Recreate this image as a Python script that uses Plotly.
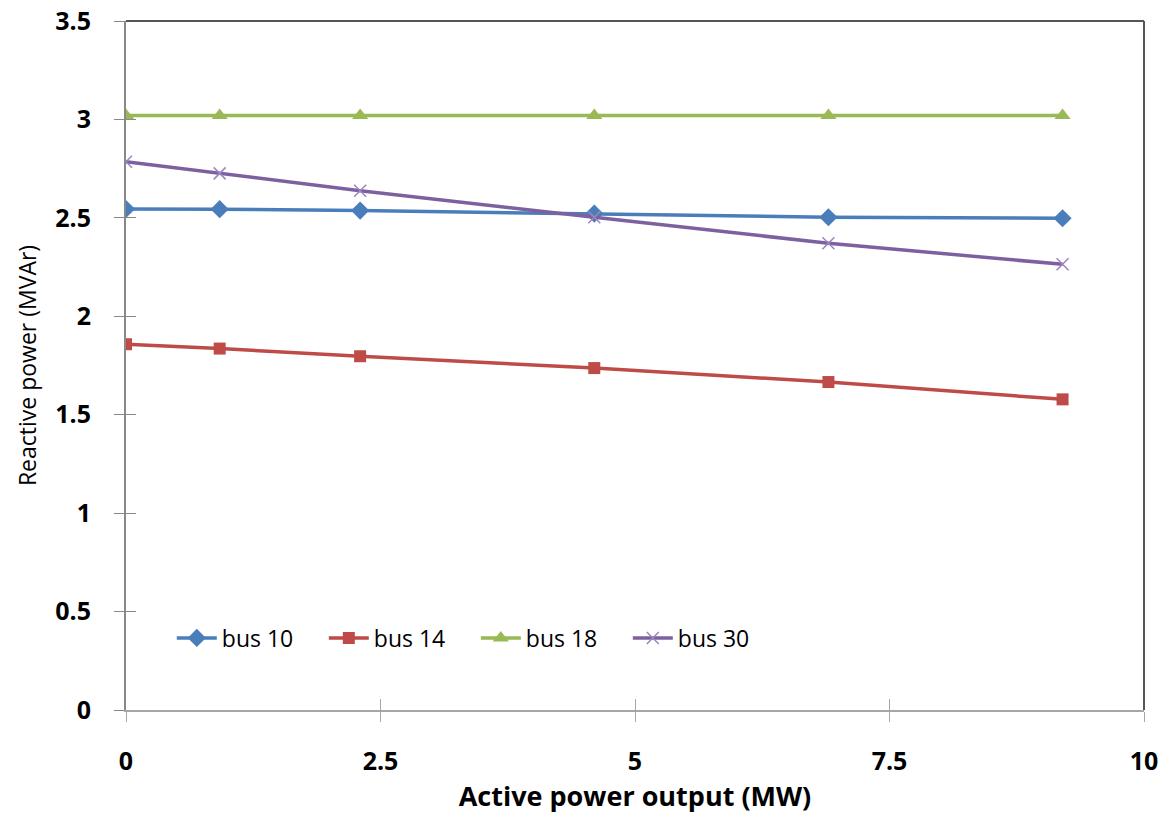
import plotly.graph_objects as go

x_vals = [0, 0.92, 2.3, 4.6, 6.9, 9.2]
bus10 = [2.545, 2.544, 2.537, 2.522, 2.503, 2.498]
bus14 = [1.858, 1.836, 1.797, 1.737, 1.666, 1.578]
bus18 = [3.02, 3.02, 3.02, 3.02, 3.02, 3.02]
bus30 = [2.785, 2.726, 2.638, 2.503, 2.371, 2.264]

series = [
    ("bus 10", bus10, "#4A7EBB", "diamond", 14),
    ("bus 14", bus14, "#BE4B48", "square", 12),
    ("bus 18", bus18, "#98B954", "triangle-up", 14),
    ("bus 30", bus30, "#7D60A0", "x-thin", 12),
]

x_ticks = [0, 2.5, 5, 7.5, 10]
x_tick_text = ["0", "2.5", "5", "7.5", "10"]
y_ticks = [0, 0.5, 1, 1.5, 2, 2.5, 3, 3.5]
y_tick_text = ["0", "0.5", "1", "1.5", "2", "2.5", "3", "3.5"]

FONT = "Open Sans"

fig = go.Figure()
for name, vals, color, sym, size in series:
    marker = dict(symbol=sym, size=size, color=color)
    if sym == "x-thin":
        marker["line"] = dict(color="#9B86BD", width=1.5)
    fig.add_trace(go.Scatter(
        x=x_vals, y=vals, name=name, mode="lines+markers",
        line=dict(color=color, width=3.5),
        marker=marker,
    ))

fig.update_layout(
    width=1171, height=814,
    margin=dict(l=126, r=27, t=21, b=104),
    plot_bgcolor="white", paper_bgcolor="white",
    showlegend=True,
    legend=dict(
        orientation="h", x=0.045, y=0.1045, xanchor="left", yanchor="middle",
        font=dict(family=FONT, size=23, color="black"),
        bgcolor="rgba(0,0,0,0)", entrywidth=97, itemwidth=40,
        tracegroupgap=0,
    ),
    xaxis=dict(
        range=[0, 10], tickvals=x_ticks, ticktext=x_tick_text,
        showgrid=False, zeroline=False, automargin=False,
        showline=True, linecolor="#A6A6A6", linewidth=2,
        ticks="outside", ticklen=10, tickcolor="#A6A6A6", tickwidth=1,
        ticklabelstandoff=18,
        tickfont=dict(family=FONT, size=25, color="black", weight="bold"),
        title=dict(text="Active power output (MW)",
                   font=dict(family=FONT, size=27, color="black", weight="bold"),
                   standoff=0),
    ),
    xaxis2=dict(
        range=[0, 10], tickvals=x_ticks, overlaying="x", side="bottom",
        showgrid=False, zeroline=False, showline=False, showticklabels=False,
        ticks="inside", ticklen=11, tickcolor="#A6A6A6", tickwidth=1,
        automargin=False,
    ),
    yaxis=dict(
        range=[0, 3.5], tickvals=y_ticks, ticktext=y_tick_text,
        showgrid=False, zeroline=False, automargin=False,
        showline=True, linecolor="#888888", linewidth=2,
        ticks="outside", ticklen=10, tickcolor="#888888", tickwidth=1,
        ticklabelstandoff=18,
        tickfont=dict(family=FONT, size=25, color="black", weight="bold"),
        title=dict(text="Reactive power (MVAr)",
                   font=dict(family=FONT, size=23, color="black"),
                   standoff=12),
    ),
    yaxis2=dict(
        range=[0, 3.5], tickvals=y_ticks, overlaying="y", side="left",
        showgrid=False, zeroline=False, showline=False, showticklabels=False,
        ticks="inside", ticklen=10, tickcolor="#888888", tickwidth=1,
        automargin=False,
    ),
    shapes=[
        dict(type="line", xref="paper", yref="paper", x0=0, x1=1, y0=1, y1=1,
             line=dict(color="#555555", width=2)),
        dict(type="line", xref="paper", yref="paper", x0=1, x1=1, y0=0, y1=1,
             line=dict(color="#555555", width=2)),
    ],
)

fig.add_trace(go.Scatter(x=[None], y=[None], xaxis="x2", yaxis="y2",
                         showlegend=False, hoverinfo="skip"))

fig.write_html("out.html")
